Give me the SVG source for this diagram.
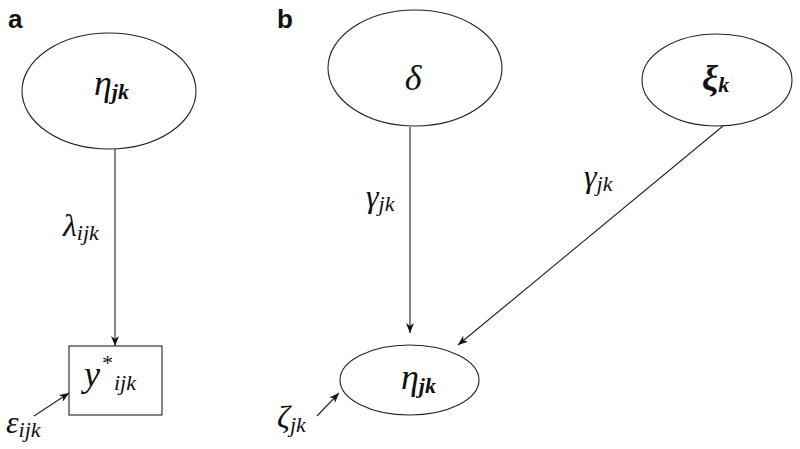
<svg xmlns="http://www.w3.org/2000/svg" width="800" height="449" viewBox="0 0 800 449">
<defs>
<style>
.shape{fill:#fff;stroke:#222;stroke-width:1.1}
.edge{fill:none;stroke:#222;stroke-width:1.1}
.panel{font-family:"Liberation Sans",Arial,sans-serif;font-weight:bold;font-size:26px;fill:#111}
.sym{font-family:"Liberation Serif","Times New Roman",serif;font-style:italic;fill:#111}
.node{font-size:36px}
.lab{font-size:32px}
.sub{font-size:22px}
.bsub{font-size:22px;font-weight:bold}
</style>
<marker id="arr" viewBox="0 0 10 8" refX="10" refY="4" markerWidth="10" markerHeight="8" markerUnits="userSpaceOnUse" orient="auto">
<path d="M0,0 L10,4 L0,8 L3,4 z" fill="#111"/>
</marker>
</defs>
<rect width="800" height="449" fill="#fff"/>
<text class="panel" x="8" y="28">a</text>
<text class="panel" x="277" y="28">b</text>

<g id="edges">
<line class="edge" x1="115" y1="149" x2="115" y2="346" marker-end="url(#arr)"/>
<line class="edge" x1="34" y1="416" x2="69" y2="393" marker-end="url(#arr)"/>
<line class="edge" x1="410" y1="127" x2="410" y2="333" marker-end="url(#arr)"/>
<line class="edge" x1="723" y1="126" x2="458" y2="345" marker-end="url(#arr)"/>
<line class="edge" x1="317" y1="416" x2="339" y2="393" marker-end="url(#arr)"/>
<text class="sym lab" x="63" y="236">λ<tspan class="sub" dy="4">ijk</tspan></text>
<text class="sym lab" x="366" y="207">γ<tspan class="sub" dy="4">jk</tspan></text>
<text class="sym lab" x="584" y="187">γ<tspan class="sub" dy="4">jk</tspan></text>
<text class="sym lab" x="6" y="433">ε<tspan class="sub" dy="4">ijk</tspan></text>
<text class="sym lab" x="277" y="428">ζ<tspan class="sub" dy="4">jk</tspan></text>
</g>

<g id="eta_a">
<ellipse class="shape" cx="109" cy="91" rx="87" ry="58"/>
<text class="sym node" x="94" y="95">η<tspan class="bsub" dy="4">jk</tspan></text>
</g>
<g id="ystar">
<rect class="shape" x="69" y="346" width="93" height="69"/>
<text class="sym node" x="84" y="386">y<tspan class="sub" dx="1" dy="-16">*</tspan><tspan class="sub" dx="2" dy="20">ijk</tspan></text>
</g>
<g id="delta">
<ellipse class="shape" cx="415" cy="68" rx="87" ry="58"/>
<text class="sym node" x="413" y="90" text-anchor="middle">δ</text>
</g>
<g id="xi">
<ellipse class="shape" cx="717" cy="80" rx="75" ry="46"/>
<text class="sym node" x="702" y="90" font-weight="bold">ξ<tspan class="bsub" dy="2">k</tspan></text>
</g>
<g id="eta_b">
<ellipse class="shape" cx="409.5" cy="380" rx="69.5" ry="35"/>
<text class="sym node" x="401" y="389">η<tspan class="bsub" dy="4">jk</tspan></text>
</g>
</svg>
